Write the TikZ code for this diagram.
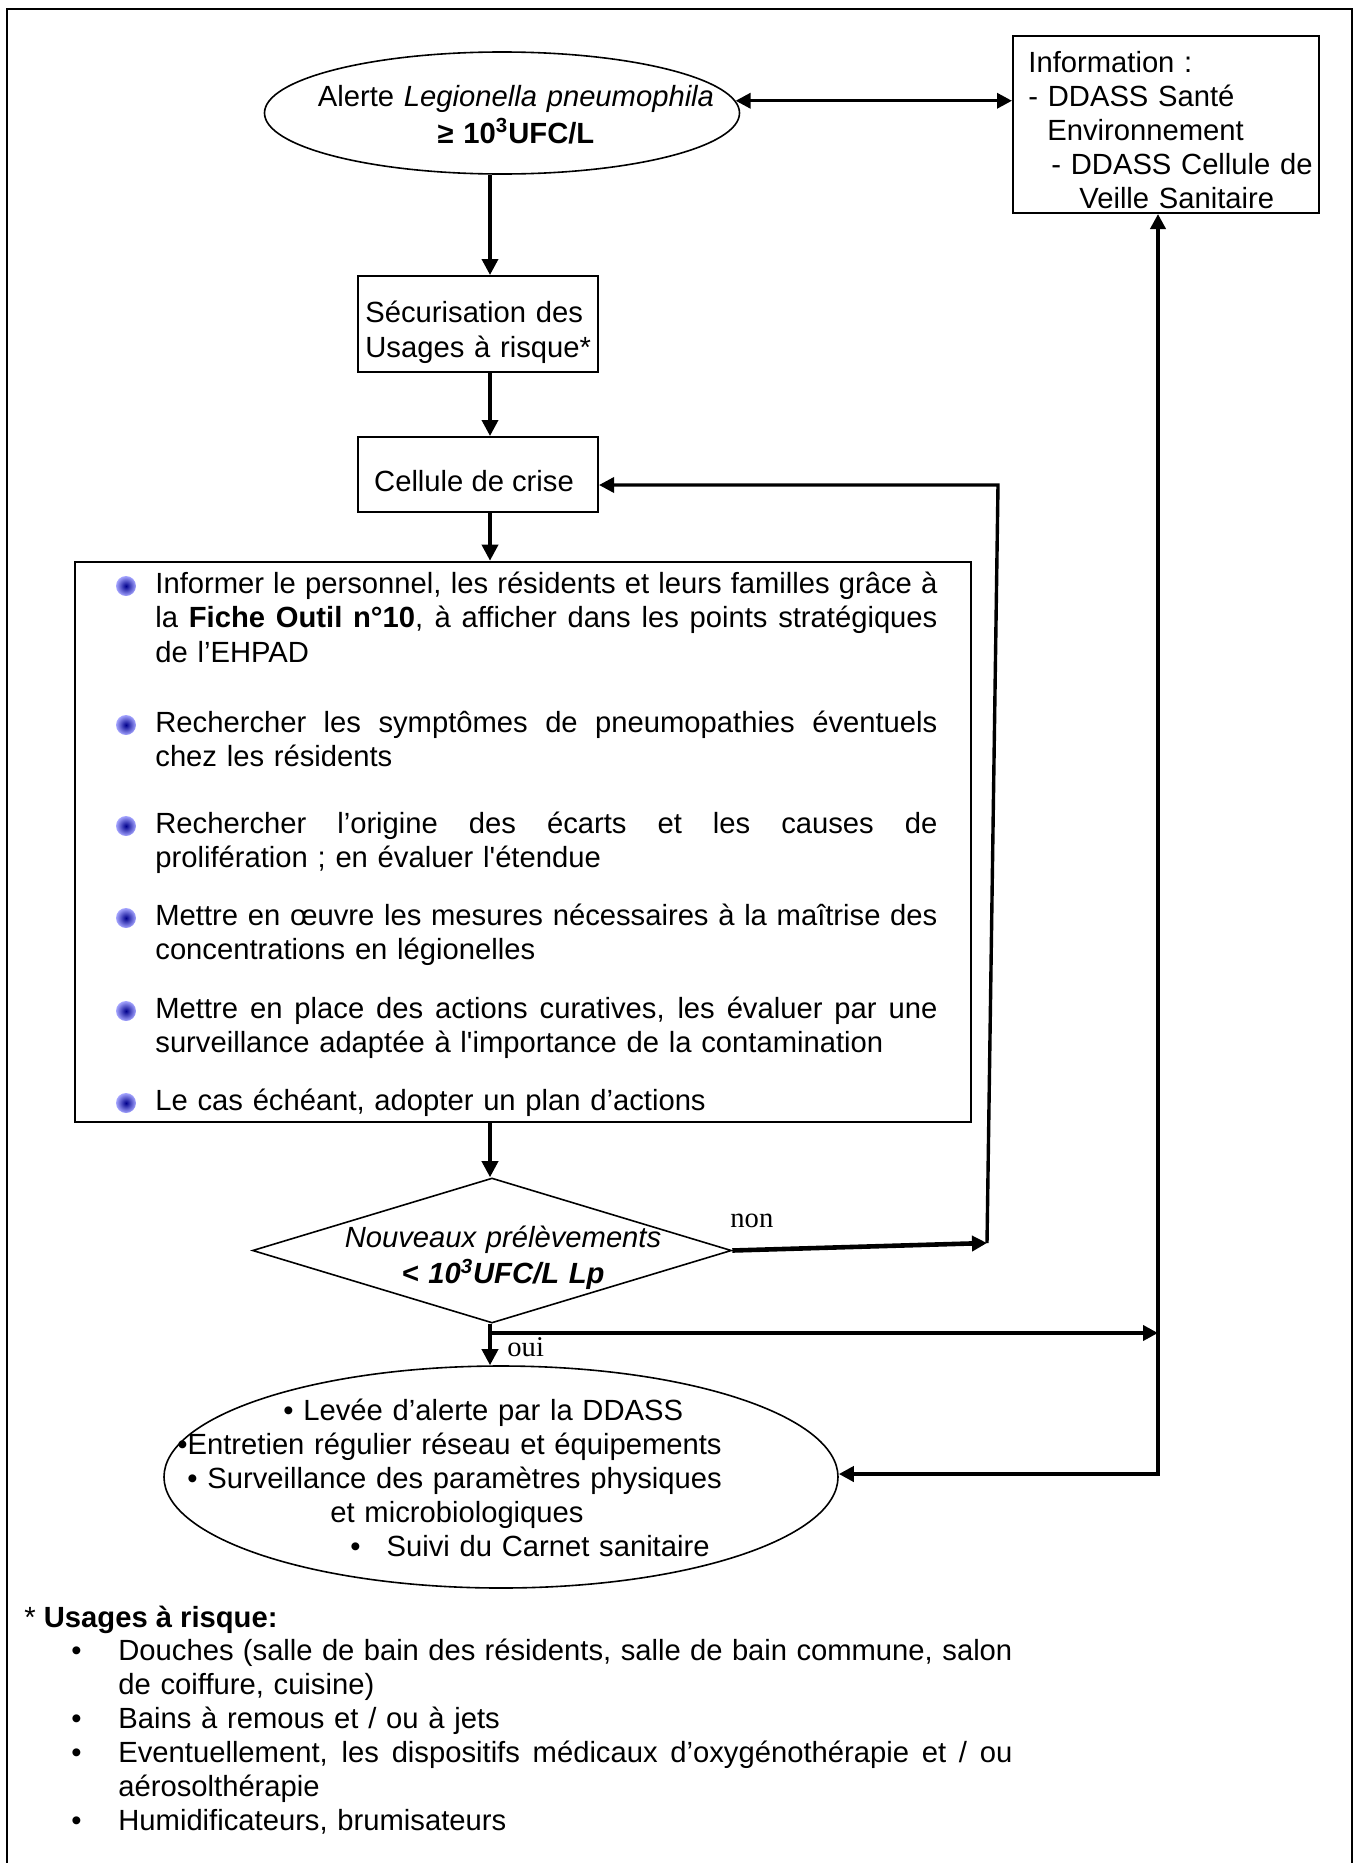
\documentclass[tikz,border=0pt]{standalone}
\usepackage{fontspec}
\setmainfont{Liberation Sans}
\newfontfamily\romain{Liberation Serif}
\usetikzlibrary{shapes.geometric,arrows.meta}

\newcommand\pleine[1]{{\spaceskip=0pt\xspaceskip=0pt\makebox[\linewidth][s]{#1}}}
\newcommand\puce{\leavevmode\llap{•\hspace{18.4pt}}}
\tikzset{
  boite/.style={draw, line width=1pt, inner sep=0pt},
  texte/.style={inner sep=0pt, anchor=base west, align=left},
  fleche/.style={line width=1.8pt, -{Triangle[length=8pt,width=8pt]}},
  gras/.style={line width=2.3pt},
  retour/.style={line width=1.7pt},
  pointe/.style={-{Triangle[length=7.5pt,width=7.5pt]}},
  deux/.style={{Triangle[length=7.5pt,width=7.5pt]}-{Triangle[length=7.5pt,width=7.5pt]}},
  bille/.style={inner color=blue!55!black, outer color=blue!35!white},
}

\begin{document}
\begin{tikzpicture}[x=0.5pt,y=-0.5pt,font={\fontsize{14.6}{17.3}\selectfont}]
	\useasboundingbox (0,0) rectangle (1354,1863);
	\draw[line width=1pt] (7,1875) -- (7,9) -- (1352,9) -- (1352,1875);

	\node[ellipse, draw, line width=0.8pt, inner sep=0pt, minimum width=237.5pt, minimum height=61pt] (alerte) at (502,113) {};
	\node[texte, anchor=base, align=center, text width=230pt] (alerteT) at (516,106) {Alerte \textit{Legionella pneumophila}\\[1.2pt] \textbf{≥ 10\textsuperscript{3}UFC/L}};

	\node[boite, minimum width=153pt, minimum height=88.5pt] (info) at (1166,124.5) {};
	\node[texte, text width=150pt, font={\fontsize{14.6}{17}\selectfont}] (infoT) at (1028,72) {Information :\\
		- DDASS Santé\\
		\hspace*{9.5pt}Environnement\\
		\hspace*{11.5pt}- DDASS Cellule de\\
		\hspace*{25.5pt}Veille Sanitaire};

	\node[boite, minimum width=120pt, minimum height=48pt] (secu) at (478,324) {};
	\node[texte, text width=116pt, font={\fontsize{14.6}{17.5}\selectfont}] (secuT) at (365,322) {Sécurisation des\\Usages à risque*};

	\node[boite, minimum width=120pt, minimum height=37.5pt] (cellule) at (478,474.5) {};
	\node[texte, anchor=base] (celluleT) at (474,491) {Cellule de crise};

	\node[boite, line width=1.3pt, minimum width=448pt, minimum height=280pt] (actions) at (523,842) {};
	\node[texte, text width=391pt] (act1) at (155,593) {\pleine{Informer le personnel, les résidents et leurs familles grâce à}\\
		\pleine{la \textbf{Fiche Outil n°10}, à afficher dans les points stratégiques}\\
		de l’EHPAD};
	\node[texte, text width=391pt] (act2) at (155,732) {\pleine{Rechercher les symptômes de pneumopathies éventuels}\\
		chez les résidents};
	\node[texte, text width=391pt] (act3) at (155,833) {\pleine{Rechercher l’origine des écarts et les causes de}\\
		prolifération ; en évaluer l\textquotesingle étendue};
	\node[texte, text width=391pt] (act4) at (155,925) {\pleine{Mettre en œuvre les mesures nécessaires à la maîtrise des}\\
		concentrations en légionelles};
	\node[texte, text width=391pt] (act5) at (155,1018) {\pleine{Mettre en place des actions curatives, les évaluer par une}\\
		surveillance adaptée à l\textquotesingle importance de la contamination};
	\node[texte, text width=391pt] (act6) at (155,1110) {Le cas échéant, adopter un plan d’actions};
	\foreach \y in {593,732,833,925,1018,1110}
		\shade[bille] (126,\y-7) circle (5pt);

	\node[diamond, draw, line width=0.8pt, inner sep=0pt, minimum width=239.5pt, minimum height=72.5pt] (test) at (492,1250.5) {};
	\node[texte, anchor=base, align=center, text width=220pt] (testT) at (503,1247) {\textit{Nouveaux prélèvements}\\[1pt] \textbf{\textit{< 10\textsuperscript{3}UFC/L Lp}}};

	\node[ellipse, draw, line width=0.8pt, inner sep=0pt, minimum width=337pt, minimum height=111pt] (levee) at (501,1477) {};
	\node[texte, text width=320pt, font={\fontsize{14.6}{17.1}\selectfont}] (leveeT) at (177,1420) {\hspace*{53pt}• Levée d’alerte par la DDASS\\
		•Entretien régulier réseau et équipements\\
		\hspace*{5pt}• Surveillance des paramètres physiques\\
		\hspace*{76.5pt}et microbiologiques\\
		\hspace*{86.5pt}•\hspace{13pt}Suivi du Carnet sanitaire};

	\node[texte, font={\romain\fontsize{14.3}{17}\selectfont}] (non) at (730,1227) {non};
	\node[texte, font={\romain\fontsize{14.3}{17}\selectfont}] (oui) at (507,1356) {oui};

	\node[texte] (usages) at (24,1627) {* \textbf{Usages à risque:}};
	\node[texte, text width=447pt, font={\fontsize{14.6}{17}\selectfont}] (liste) at (118,1660) {\puce\pleine{Douches (salle de bain des résidents, salle de bain commune, salon}\\
		de coiffure, cuisine)\\
		\puce Bains à remous et / ou à jets\\
		\puce\pleine{Eventuellement, les dispositifs médicaux d’oxygénothérapie et / ou}\\
		aérosolthérapie\\
		\puce Humidificateurs, brumisateurs};

	\coordinate (axe) at (490,0);
	\coordinate (nonbas) at (987,1243);
	\coordinate (nonhaut) at (998,485);
	\coordinate (ouig) at (490,1333);
	\coordinate (coin) at (1158,1474);

	\draw[retour, deux] (alerte.3.5) -- (alerte.3.5 -| info.west);
	\draw[fleche] (alerte.south -| axe) -- (secu.north -| axe);
	\draw[fleche] (secu.south -| axe) -- (cellule.north -| axe);
	\draw[fleche] (cellule.south -| axe) -- (actions.north -| axe);
	\draw[fleche] (actions.south -| axe) -- (test.north -| axe);
	\draw[fleche] (test.south -| axe) -- (levee.north -| axe);
	\draw[gras, pointe] (test.east) -- (nonbas);
	\draw[retour, pointe] (nonbas) -- (nonhaut) -- (nonhaut -| cellule.east);
	\draw[gras, pointe] (ouig) -- (ouig -| coin);
	\draw[gras, deux] (coin -| levee.east) -- (coin) -- (coin |- info.south);
\end{tikzpicture}
\end{document}
